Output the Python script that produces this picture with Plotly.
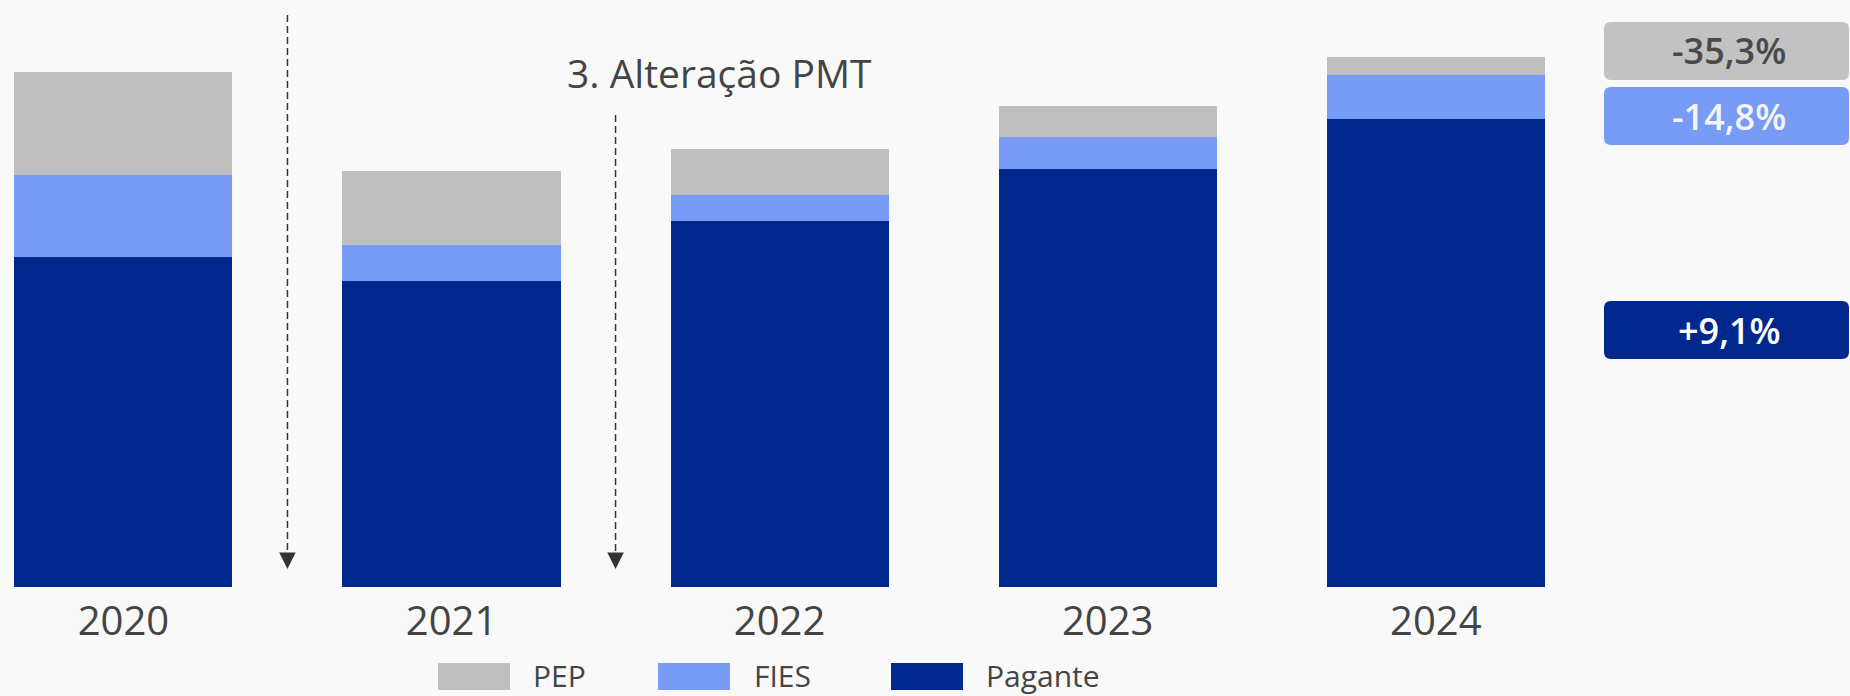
import plotly.graph_objects as go

# ---------------- data (arbitrary units) ----------------
years = ["2020", "2021", "2022", "2023", "2024"]
pagante = [330, 306, 366, 418, 468]
fies = [82, 36, 26, 32, 44]
pep = [103, 74, 46, 31, 18]

series_names = ["Pagante", "FIES", "PEP"]
series_colors = ["#00288C", "#789BF5", "#BFBFBF"]

badge_labels = ["-35,3%", "-14,8%", "+9,1%"]
badge_fill = ["#C2C2C2", "#789BF5", "#00288C"]
badge_text_color = ["#4A4A4A", "#F4F4F4", "#FFFFFF"]

event_label = "3. Alteração PMT"

# ---------------- layout helpers (pixel -> paper) ----------------
W, H = 1850, 696
T, B = 0, 109
PH = H - T - B  # plot height in px
FONT = "'Open Sans', Lato, sans-serif"
TXT = "#444444"
BG = "#F9F9F9"


def pxx(px):
    return px / W


def pxy(py):
    return (H - B - py) / PH


def rounded_rect(x0, y0, x1, y1, r):
    # pixel coords in, path in paper coords out
    X = lambda v: f"{pxx(v):.6f}"
    Y = lambda v: f"{pxy(v):.6f}"
    return (
        f"M {X(x0 + r)},{Y(y0)} L {X(x1 - r)},{Y(y0)} Q {X(x1)},{Y(y0)} {X(x1)},{Y(y0 + r)} "
        f"L {X(x1)},{Y(y1 - r)} Q {X(x1)},{Y(y1)} {X(x1 - r)},{Y(y1)} "
        f"L {X(x0 + r)},{Y(y1)} Q {X(x0)},{Y(y1)} {X(x0)},{Y(y1 - r)} "
        f"L {X(x0)},{Y(y0 + r)} Q {X(x0)},{Y(y0)} {X(x0 + r)},{Y(y0)} Z"
    )


xidx = list(range(len(years)))
fig = go.Figure()
for name, vals, col in zip(series_names, [pagante, fies, pep], series_colors):
    fig.add_trace(
        go.Bar(
            x=xidx,
            y=vals,
            name=name,
            marker=dict(color=col, line=dict(width=0)),
            width=0.665,
            showlegend=False,
            hoverinfo="skip",
        )
    )

spacing = 328.1
x0r = -123.4 / spacing
x1r = x0r + W / spacing

shapes = []
annotations = []

# dashed arrows between bars
for xpos, ytop_px in [(0.5, 15), (1.5, 115)]:
    shapes.append(
        dict(
            type="line", xref="x", yref="y",
            x0=xpos, x1=xpos, y0=H - B - ytop_px, y1=H - B - 560,
            line=dict(color="#333333", width=1.5, dash="7px,4px"),
        )
    )
    annotations.append(
        dict(
            x=xpos, y=H - B - 569, xref="x", yref="y",
            ax=0, ay=-14, axref="pixel", ayref="pixel",
            text="", showarrow=True, arrowhead=2, arrowsize=2.2,
            arrowwidth=1.5, arrowcolor="#333333", standoff=0,
        )
    )

annotations.append(
    dict(
        x=(719 - 123.4) / spacing, y=H - B - 72, xref="x", yref="y",
        text=event_label, showarrow=False,
        font=dict(family=FONT, size=39, color=TXT),
        xanchor="center", yanchor="middle",
    )
)

# right-hand badges
badge_rows = [(22, 80), (87, 145), (301, 359)]
for (y0, y1), lab, fc, tc in zip(badge_rows, badge_labels, badge_fill, badge_text_color):
    shapes.append(
        dict(
            type="path", xref="paper", yref="paper",
            path=rounded_rect(1604, y0, 1849, y1, 7),
            fillcolor=fc, line=dict(width=0), layer="above",
        )
    )
    annotations.append(
        dict(
            x=pxx(1729), y=pxy((y0 + y1) / 2), xref="paper", yref="paper",
            text=lab, showarrow=False,
            font=dict(family=FONT, size=36, color=tc, weight=600),
            xanchor="center", yanchor="middle",
        )
    )

# custom legend
legend_items = [("PEP", series_colors[2], 438, 531), ("FIES", series_colors[1], 658, 752),
                ("Pagante", series_colors[0], 891, 984)]
for name, col, sx, tx in legend_items:
    shapes.append(
        dict(
            type="rect", xref="paper", yref="paper",
            x0=pxx(sx), x1=pxx(sx + 72), y0=pxy(663), y1=pxy(690),
            fillcolor=col, line=dict(width=0),
        )
    )
    annotations.append(
        dict(
            x=pxx(tx), y=pxy(675), xref="paper", yref="paper",
            text=name, showarrow=False,
            font=dict(family=FONT, size=30, color=TXT),
            xanchor="left", yanchor="middle",
        )
    )

fig.update_layout(
    width=W, height=H,
    margin=dict(l=0, r=0, t=T, b=B),
    paper_bgcolor=BG, plot_bgcolor=BG,
    barmode="stack", bargap=0,
    hovermode=False,
    xaxis=dict(
        range=[x0r, x1r], tickvals=xidx, ticktext=years,
        showgrid=False, zeroline=False, showline=False, ticks="",
        tickfont=dict(family=FONT, size=40, color=TXT),
        ticklabelstandoff=7,
        fixedrange=True,
    ),
    yaxis=dict(range=[0, PH], visible=False, fixedrange=True),
    shapes=shapes,
    annotations=annotations,
    font=dict(family=FONT),
)

fig.write_html(
    "out.html",
    config={"displayModeBar": False},
    post_script="document.body.style.margin='0';document.body.style.background='#F9F9F9';",
)
